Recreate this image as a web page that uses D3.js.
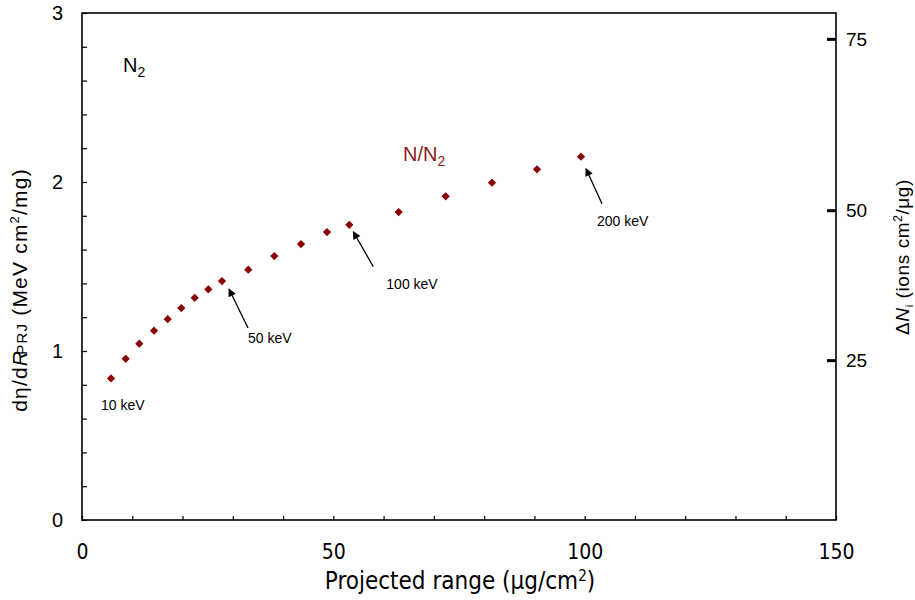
<!DOCTYPE html>
<html>
<head>
<meta charset="utf-8">
<script src="https://cdn.jsdelivr.net/npm/d3@7"></script>
<style>
  body { margin: 0; background: #fff; }
  svg { display: block; }
  text { font-family: "Liberation Sans", Arial, sans-serif; fill: #000; }
  .narrow { font-family: "Liberation Sans Narrow", "DejaVu Sans Condensed", "Liberation Sans", sans-serif; }
</style>
</head>
<body>
<svg width="915" height="600"></svg>
<script>
// ion energies (keV) and readings
var energies = [10, 15, 20, 25, 30, 35, 40, 45, 50, 60, 70, 80, 90, 100, 120, 140, 160, 180, 200];
var rangeVals = [5.77, 8.69, 11.40, 14.32, 17.05, 19.75, 22.42, 25.13, 27.85, 33.08, 38.26, 43.57, 48.74, 53.18, 63.00, 72.35, 81.56, 90.52, 99.27];
var dEta = [0.838, 0.954, 1.043, 1.120, 1.188, 1.254, 1.315, 1.365, 1.414, 1.481, 1.562, 1.633, 1.704, 1.747, 1.822, 1.915, 1.996, 2.075, 2.150];

var xTicks = [0, 50, 100, 150];
var yTicks = [0, 1, 2, 3];
var rightTicks = [25, 50, 75];
// where the right-axis ticks sit, in left-axis units
var rightTickAt = [0.943, 1.830, 2.844];

var labelled = [10, 50, 100, 200];

var svg = d3.select("svg");
var pLeft = 82, pRight = 836, pTop = 13, pBottom = 520;

var x = d3.scaleLinear().domain([0, 150]).range([pLeft, pRight]);
var y = d3.scaleLinear().domain([0, 3]).range([pBottom, pTop]);
var yR = d3.scaleLinear().domain(rightTicks).range(rightTickAt.map(function(v) { return y(v); }));

// frame
svg.append("rect")
    .attr("x", pLeft).attr("y", pTop)
    .attr("width", pRight - pLeft).attr("height", pBottom - pTop)
    .attr("fill", "none").attr("stroke", "#000").attr("stroke-width", 1.6);

// inner minor ticks, left
svg.append("g")
    .attr("transform", "translate(" + pLeft + ",0)")
    .call(d3.axisRight(y).tickValues(d3.range(0, 3.001, 0.2)).tickSize(5).tickFormat(""))
    .call(function(g) { g.select(".domain").remove(); g.selectAll("line").attr("stroke-width", 1.2); });

// inner ticks, bottom
svg.append("g")
    .attr("transform", "translate(0," + pBottom + ")")
    .call(d3.axisTop(x).tickValues(d3.range(0, 150.1, 10)).tickSize(4).tickFormat(""))
    .call(function(g) { g.select(".domain").remove(); g.selectAll("line").attr("stroke-width", 1.2); });

// left labels
svg.append("g")
    .attr("transform", "translate(" + pLeft + ",0)")
    .call(d3.axisLeft(y).tickValues(yTicks).tickSize(0).tickPadding(19).tickFormat(d3.format("d")))
    .call(function(g) {
        g.select(".domain").remove();
        g.attr("font-family", null).attr("font-size", null);
        g.selectAll("text").attr("font-size", 20);
    });

// bottom labels
svg.append("g")
    .attr("transform", "translate(0," + pBottom + ")")
    .call(d3.axisBottom(x).tickValues(xTicks).tickSize(0).tickPadding(24).tickFormat(d3.format("d")))
    .call(function(g) {
        g.select(".domain").remove();
        g.attr("font-family", null).attr("font-size", null);
        g.selectAll("text").attr("font-size", 21).attr("class", "narrow");
    });

// right axis
svg.append("g")
    .attr("transform", "translate(" + pRight + ",0)")
    .call(d3.axisRight(yR).tickValues(rightTicks).tickSize(0).tickPadding(10).tickFormat(d3.format("d")))
    .call(function(g) {
        g.select(".domain").remove();
        g.attr("font-family", null).attr("font-size", null);
        g.selectAll("text").attr("font-size", 19);
    });
svg.append("g")
    .selectAll("line")
    .data(rightTicks)
    .enter()
    .append("line")
    .attr("x1", pRight - 9).attr("x2", pRight)
    .attr("y1", function(d) { return yR(d); })
    .attr("y2", function(d) { return yR(d); })
    .attr("stroke", "#000").attr("stroke-width", 3);

// axis titles
var yTitle = svg.append("text")
    .attr("transform", "translate(27,290) rotate(-90)")
    .attr("text-anchor", "middle")
    .attr("font-size", 21)
    .attr("letter-spacing", 1.2);
yTitle.append("tspan").text("dη/d");
yTitle.append("tspan").attr("font-style", "italic").text("R");
yTitle.append("tspan").attr("font-size", 15).attr("dx", -5).text("PRJ");
yTitle.append("tspan").text("  (MeV cm");
yTitle.append("tspan").attr("font-size", 13).attr("dy", -8).text("2");
yTitle.append("tspan").attr("dy", 8).text("/mg)");

var rTitle = svg.append("text")
    .attr("transform", "translate(909,257) rotate(-90)")
    .attr("text-anchor", "middle")
    .attr("font-size", 19)
    .attr("letter-spacing", 0.6);
rTitle.append("tspan").text("Δ");
rTitle.append("tspan").attr("font-style", "italic").text("N");
rTitle.append("tspan").attr("font-size", 11).attr("dy", 4).text("i");
rTitle.append("tspan").attr("dy", -4).text("  (ions cm");
rTitle.append("tspan").attr("font-size", 12).attr("dy", -7).text("2");
rTitle.append("tspan").attr("dy", 7).text("/μg)");

var xTitle = svg.append("text")
    .attr("class", "narrow")
    .attr("x", 460).attr("y", 589)
    .attr("text-anchor", "middle")
    .attr("font-size", 24);
xTitle.append("tspan").text("Projected range (μg/cm");
xTitle.append("tspan").attr("font-size", 15).attr("dy", -8).text("2");
xTitle.append("tspan").attr("dy", 8).text(")");

// data markers
svg.append("g")
    .selectAll("path")
    .data(rangeVals)
    .enter()
    .append("path")
    .attr("d", d3.symbol(d3.symbolSquare, 34))
    .attr("fill", "#8b0000")
    .attr("transform", function(d, i) {
        return "translate(" + x(d) + "," + y(dEta[i]) + ") rotate(45)";
    });

// series and sample labels
var n2 = svg.append("text").attr("x", 123).attr("y", 72).attr("font-size", 20);
n2.append("tspan").text("N");
n2.append("tspan").attr("font-size", 14).attr("dy", 5).text("2");

var nn2 = svg.append("text").attr("x", 403).attr("y", 161).attr("font-size", 20).style("fill", "#8b1a1a");
nn2.append("tspan").text("N/N");
nn2.append("tspan").attr("font-size", 14).attr("dy", 5).text("2");

// energy annotations: offsets of arrow tip, arrow tail and text from the marker
var annot = {
    10:  { text: [-10, 32] },
    50:  { tip: [7, 8], tail: [26, 47], text: [26, 62] },
    100: { tip: [4, 7], tail: [24, 42], text: [37, 64] },
    200: { tip: [5, 12], tail: [21, 47], text: [16, 69] }
};

svg.append("defs").append("marker")
    .attr("id", "head")
    .attr("viewBox", "0 0 10 10")
    .attr("refX", 9).attr("refY", 5)
    .attr("markerWidth", 11).attr("markerHeight", 8)
    .attr("markerUnits", "userSpaceOnUse")
    .attr("orient", "auto")
    .append("path").attr("d", "M0,0 L10,5 L0,10 Z").attr("fill", "#000");

labelled.forEach(function(e) {
    var i = energies.indexOf(e);
    var px = x(rangeVals[i]), py = y(dEta[i]);
    var a = annot[e];
    if (a.tip) {
        svg.append("line")
            .attr("x1", px + a.tail[0]).attr("y1", py + a.tail[1])
            .attr("x2", px + a.tip[0]).attr("y2", py + a.tip[1])
            .attr("stroke", "#000").attr("stroke-width", 1.3)
            .attr("marker-end", "url(#head)");
    }
    svg.append("text")
        .attr("x", px + a.text[0]).attr("y", py + a.text[1])
        .attr("font-size", 14)
        .text(e + " keV");
});
</script>
</body>
</html>
